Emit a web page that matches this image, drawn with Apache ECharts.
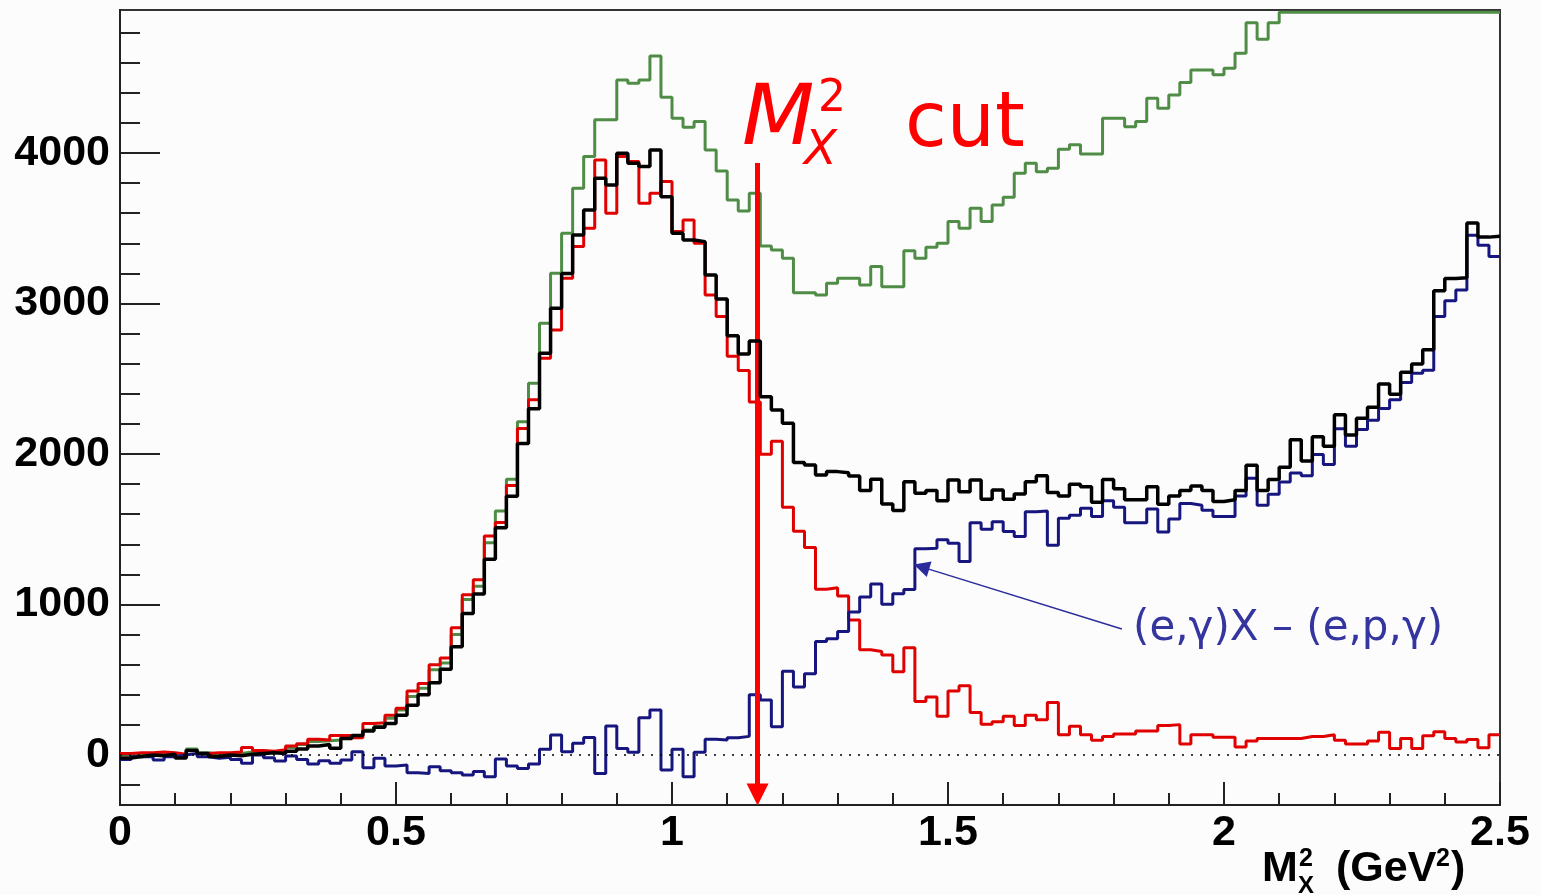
<!DOCTYPE html>
<html>
<head>
<meta charset="utf-8">
<script src="https://cdn.jsdelivr.net/npm/echarts@6/dist/echarts.min.js"></script>
<style>
html, body { margin: 0; background: #fcfcfc; }
#chart { width: 1541px; height: 895px; }
</style>
</head>
<body>
<div id="chart"></div>
<script>
// histogram binning (GeV^2)
const binStart = 0;
const binWidth = 0.02;

// counts per bin, 125 bins from 0 to 2.5
const greenCounts = [5,10,10,15,10,0,40,15,5,10,
    10,20,25,20,30,50,70,90,95,100,
    125,133,167,189,244,300,389,444,567,611,
    800,1033,1122,1411,1622,1833,2215,2470,2868,3201,
    3466,3766,3976,4220,4220,4485,4463,4485,4645,4370,
    4231,4171,4209,4020,3881,3688,3615,3732,3382,3356,
    3300,3072,3072,3057,3134,3167,3167,3123,3245,3112,
    3112,3351,3300,3373,3400,3544,3500,3633,3544,3655,
    3706,3865,3932,3876,3898,4025,4054,3994,3994,4231,
    4231,4175,4209,4364,4297,4386,4468,4552,4552,4519,
    4563,4663,4866,4755,4866,4935,4935,4935,4935,4935,
    4935,4935,4935,4935,4935,4935,4935,4935,4935,4935,
    4935,4935,4935,4935,4935];

const redCounts = [10,15,15,20,15,5,30,10,15,15,
    20,50,30,25,35,60,75,105,100,130,
    130,115,210,215,265,310,425,475,600,645,
    845,1065,1165,1455,1545,1790,2170,2360,2636,2824,
    3167,3378,3500,3954,3599,3976,3943,3666,3732,3810,
    3478,3555,3400,3057,2913,2650,2555,2345,1998,2084,
    1647,1487,1379,1101,1111,1057,897,700,688,664,
    553,713,356,386,258,425,460,283,204,221,
    258,197,265,234,349,135,192,135,98,123,
    140,140,160,160,197,202,74,135,135,118,
    118,54,93,110,110,110,110,123,123,135,
    98,74,74,93,152,44,110,44,128,155,
    110,86,103,49,135];

const blueCounts = [-29,-11,-11,-33,-11,0,11,-11,-22,-15,
    -29,-55,0,-18,-40,-7,-29,-60,-38,-55,
    -33,22,-84,-22,-73,-67,-118,-122,-78,-104,
    -118,-133,-110,-144,-27,-73,-89,-60,38,133,
    22,78,117,-122,193,44,18,248,299,-100,
    38,-144,18,105,100,115,124,400,365,188,
    556,452,540,754,772,820,950,1050,1136,1002,
    1072,1100,1371,1374,1430,1407,1285,1543,1500,1550,
    1485,1452,1616,1622,1394,1573,1593,1639,1585,1690,
    1647,1544,1544,1634,1482,1568,1671,1659,1627,1585,
    1585,1721,1839,1659,1733,1814,1873,1856,1996,1930,
    2168,2052,2163,2224,2303,2360,2475,2537,2556,2913,
    3018,3090,3454,3387,3313];

const blackCounts = [-20,-10,0,-5,5,-20,30,10,-10,0,
    -5,5,10,15,10,25,40,60,70,45,
    110,130,160,185,210,265,330,400,480,570,
    720,940,1070,1300,1510,1720,2070,2300,2669,2968,
    3200,3455,3621,3832,3788,3998,3932,3910,4020,3710,
    3466,3422,3411,3190,3030,2785,2665,2750,2380,2293,
    2204,1943,1927,1861,1883,1876,1854,1757,1832,1668,
    1624,1816,1739,1757,1690,1827,1750,1827,1699,1761,
    1699,1734,1816,1856,1745,1721,1799,1782,1679,1831,
    1770,1696,1696,1782,1667,1721,1758,1787,1758,1684,
    1696,1758,1925,1758,1831,1912,2094,1954,2114,2052,
    2261,2126,2237,2311,2465,2397,2544,2598,2692,3085,
    3166,3171,3535,3441,3446];

const yMajorTicks = [0, 1000, 2000, 3000, 4000];
const yMinorTicks = [-200,200,400,600,800,1200,1400,1600,1800,2200,2400,2600,2800,
    3200,3400,3600,3800,4200,4400,4600,4800];

// cut line and annotation arrow (data coords)
const cutX = 1.155;
const cutFrom = 3934, cutTo = -262;
const arrowFrom = [1.815, 837];
const arrowTo = [1.452, 1250];

const toSteps = (counts)=>{
    const pts = counts.map((v, i)=>[binStart + i * binWidth, v]);
    pts.push([binStart + counts.length * binWidth, counts[counts.length - 1]]);
    return pts;
};

const labelFont = {
    fontSize: 43,
    fontWeight: 'bold',
    fontFamily: 'Liberation Sans',
    color: '#000'
};

const histo = (counts, color, width, z)=>({
    type: 'line',
    step: 'end',
    data: toSteps(counts),
    showSymbol: false,
    symbol: 'none',
    z,
    lineStyle: { color, width },
    emphasis: { disabled: true }
});

const txt = (x, y, text, font, fill)=>({
    type: 'text',
    x,
    y,
    z: 100,
    style: { text, font, fill, align: 'left', verticalAlign: 'middle', textAlign: 'left', textVerticalAlign: 'middle' }
});

const chart = echarts.init(document.getElementById('chart'));
chart.setOption({
    animation: false,
    backgroundColor: '#fcfcfc',
    grid: {
        left: 120,
        right: 41,
        top: 10,
        bottom: 90,
        show: true,
        borderColor: '#333',
        borderWidth: 2,
        backgroundColor: 'transparent'
    },
    xAxis: {
        type: 'value',
        min: 0,
        max: 2.5,
        interval: 0.5,
        axisLine: { onZero: false, lineStyle: { color: '#222', width: 2 } },
        axisTick: { inside: true, length: 23, lineStyle: { color: '#222', width: 2 } },
        minorTick: { show: true, splitNumber: 5, length: 12, lineStyle: { color: '#222', width: 2 } },
        splitLine: { show: false },
        minorSplitLine: { show: false },
        axisLabel: Object.assign({ margin: 7, showMinLabel: true, showMaxLabel: true }, labelFont)
    },
    yAxis: [
        {
            type: 'value',
            min: -332,
            max: 4950,
            axisLine: { show: true, onZero: false, lineStyle: { color: '#222', width: 2 } },
            axisTick: { show: true, inside: true, length: 40, customValues: yMajorTicks,
                lineStyle: { color: '#222', width: 2 } },
            axisLabel: Object.assign({ margin: 10, customValues: yMajorTicks, formatter: (v)=>String(v) }, labelFont),
            splitLine: { show: false }
        },
        {
            type: 'value',
            min: -332,
            max: 4950,
            position: 'left',
            axisLine: { show: false, onZero: false },
            axisTick: { show: true, inside: true, length: 20, customValues: yMinorTicks,
                lineStyle: { color: '#222', width: 2 } },
            axisLabel: { show: false },
            splitLine: { show: false }
        }
    ],
    series: [
        Object.assign(histo(greenCounts, '#4f8c45', 3, 2), {
            markLine: {
                silent: true,
                symbol: 'none',
                label: { show: false },
                lineStyle: { color: '#000', width: 1.5, type: [2, 7] },
                data: [{ yAxis: 0 }]
            }
        }),
        histo(redCounts, '#e00000', 3, 3),
        Object.assign(histo(blueCounts, '#16167e', 3, 4), {
            markLine: {
                silent: true,
                symbol: ['none', 'triangle'],
                symbolSize: 16,
                label: { show: false },
                lineStyle: { color: '#2b2b9c', width: 1.5, type: 'solid' },
                data: [[{ coord: arrowFrom }, { coord: arrowTo }]]
            }
        }),
        Object.assign(histo(blackCounts, '#000', 3.5, 5), {
            markLine: {
                silent: true,
                symbol: ['none', 'triangle'],
                symbolSize: 22,
                label: { show: false },
                lineStyle: { color: '#ff0000', width: 5, type: 'solid' },
                data: [[{ coord: [cutX, cutFrom] }, { coord: [cutX, cutTo] }]]
            }
        })
    ],
    graphic: [
        txt(742, 122, 'M', 'italic 84px "DejaVu Sans"', '#ff0000'),
        txt(818, 100, '2', '44px "DejaVu Sans"', '#ff0000'),
        txt(804, 152, 'X', 'italic 48px "DejaVu Sans"', '#ff0000'),
        txt(905, 126, 'cut', '76px "DejaVu Sans"', '#ff0000'),
        txt(1133, 629, '(e,γ)X – (e,p,γ)', '42px "DejaVu Sans"', '#3535a0'),
        txt(1262, 869, 'M', 'bold 43px "Liberation Sans"', '#000'),
        txt(1299, 859, '2', 'bold 25px "Liberation Sans"', '#000'),
        txt(1298, 886, 'X', 'bold 24px "Liberation Sans"', '#000'),
        txt(1336, 869, '(GeV', 'bold 43px "Liberation Sans"', '#000'),
        txt(1436, 859, '2', 'bold 25px "Liberation Sans"', '#000'),
        txt(1451, 869, ')', 'bold 43px "Liberation Sans"', '#000')
    ]
});
</script>
</body>
</html>
